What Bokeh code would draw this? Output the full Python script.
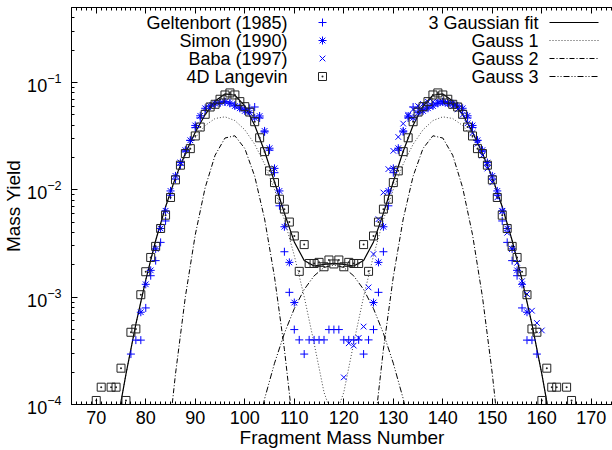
import math
from bokeh.plotting import figure
from bokeh.models import (Range1d, LinearScale, LinearAxis,
                          SingleIntervalTicker, LogTicker)
from bokeh.embed import file_html
from bokeh.resources import INLINE
from bokeh.core.properties import value

FONT = "Liberation Sans"
FS = "18px"
BLUE = "#0000ff"

# ---------------- data ----------------
# 4D Langevin (mass number, yield)
lang_A = [70, 71, 73, 74, 75, 76, 77, 78, 79, 80, 81, 82, 83, 84, 85, 86, 87, 88, 89, 90,
          91, 92, 93, 94, 95, 96, 97, 98, 99, 100, 101, 102, 103, 104, 105, 106, 107, 108,
          109, 110, 111, 112, 113, 114, 115, 116, 117, 118, 119, 120, 121, 122, 123, 124,
          125, 126, 127, 128, 129, 130, 131, 132, 133, 134, 135, 136, 137, 138, 139, 140,
          141, 142, 143, 144, 145, 146, 147, 148, 149, 150, 151, 152, 153, 154, 155, 156,
          157, 158, 159, 160, 161, 162, 163, 165, 166]
lang_Y = [1.09e-4, 1.45e-4, 1.45e-4, 1.45e-4, 2.18e-4, 1.09e-4, 4.71e-4, 5.06e-4, 1.054e-3,
          1.726e-3, 2.344e-3, 2.972e-3, 4.365e-3, 5.808e-3, 8.49e-3, 0.01239, 0.01698,
          0.02178, 0.02421, 0.03177, 0.03846, 0.05058, 0.05916, 0.06266, 0.06982, 0.07656,
          0.07998, 0.07656, 0.06637, 0.05957, 0.05309, 0.04315, 0.03055, 0.02270, 0.01503,
          0.01169, 8.18e-3, 6.61e-3, 5.01e-3, 3.72e-3, 1.74e-3, 3.09e-3, 2.06e-3, 2.06e-3,
          2.11e-3, 1.92e-3, 2.22e-3, 2.04e-3, 2.22e-3, 1.92e-3, 2.11e-3, 2.06e-3, 2.06e-3,
          3.09e-3, 1.74e-3, 3.72e-3, 5.01e-3, 6.61e-3, 8.18e-3, 0.01169, 0.01503, 0.02270,
          0.03055, 0.04315, 0.05309, 0.05957, 0.06637, 0.07656, 0.07998, 0.07656, 0.06982,
          0.06266, 0.05916, 0.05058, 0.03846, 0.03177, 0.02421, 0.02178, 0.01698, 0.01239,
          8.49e-3, 5.808e-3, 4.365e-3, 2.972e-3, 2.344e-3, 1.726e-3, 1.054e-3, 5.06e-4,
          4.71e-4, 1.09e-4, 2.18e-4, 1.45e-4, 1.45e-4, 1.45e-4, 1.09e-4]

# Simon (1990)
simon_A = [79, 80, 81, 82, 83, 84, 85, 86, 87, 88, 89, 90, 91, 92, 93, 94, 95, 96, 97, 98,
           99, 100, 101, 102, 103, 104, 105, 106, 107, 108, 109, 110,
           126, 127, 128, 129, 130, 131, 132, 133, 134, 135, 136, 137, 138, 139, 140, 141,
           142, 143, 144, 145, 146, 147, 148, 149, 150, 151, 152, 153, 154, 155, 156, 157]
simon_Y = [7.24e-4, 1.318e-3, 1.778e-3, 2.818e-3, 4.365e-3, 6.38e-3, 9.77e-3, 0.01349,
           0.01795, 0.02344, 0.02897, 0.03981, 0.04898, 0.05754, 0.0604, 0.06353, 0.06486,
           0.06622, 0.06397, 0.0604, 0.05754, 0.05433, 0.05236, 0.04677, 0.04875, 0.0354,
           0.02443, 0.01585, 9.77e-3, 4.53e-3, 2.11e-3, 8.91e-4,
           8.91e-4, 2.11e-3, 4.53e-3, 9.77e-3, 0.01585, 0.02443, 0.0354, 0.04875, 0.04677,
           0.05236, 0.05433, 0.05754, 0.0604, 0.06397, 0.06622, 0.06486, 0.06353, 0.0604,
           0.05754, 0.04898, 0.03981, 0.02897, 0.02344, 0.01795, 0.01349, 9.77e-3, 6.38e-3,
           4.365e-3, 2.818e-3, 1.778e-3, 1.318e-3, 7.24e-4]

# Geltenbort (1985)
gelt_A = [77, 78, 79, 80, 81, 82, 83, 84, 85, 86, 87, 88, 89, 90, 91, 92, 93, 94, 95, 96,
          97, 98, 99, 100, 101, 102, 103, 104, 105, 106, 107, 108, 109, 110, 111, 112, 113,
          114, 115, 116, 117, 118, 119, 120, 121, 122, 123, 124, 125, 126, 127, 128, 129,
          130, 131, 132, 133, 134, 135, 136, 137, 138, 139, 140, 141, 142, 143, 144, 145,
          146, 147, 148, 149, 150, 151, 152, 153, 154, 155, 156, 157, 158, 159]
gelt_Y = [2.95e-4, 3.98e-4, 3.98e-4, 7.94e-4, 1.585e-3, 2.19e-3, 3.24e-3, 5.13e-3, 8.91e-3,
          0.01259, 0.01698, 0.02291, 0.02884, 0.03802, 0.04677, 0.05495, 0.06026, 0.0631,
          0.06457, 0.06607, 0.06457, 0.06166, 0.05888, 0.05623, 0.05754, 0.05916, 0.04677,
          0.03467, 0.02344, 0.01445, 7.1e-3, 2.65e-3, 1.109e-3, 4.99e-4, 4.0e-4, 2.95e-4,
          4.0e-4, 4.0e-4, 4.0e-4, 4.0e-4, 4.99e-4, 4.99e-4, 4.99e-4, 4.0e-4, 4.0e-4, 4.0e-4,
          4.0e-4, 2.95e-4, 4.0e-4, 4.99e-4, 1.109e-3, 2.65e-3, 7.1e-3, 0.01445, 0.02344,
          0.03467, 0.04677, 0.05916, 0.05754, 0.05623, 0.05888, 0.06166, 0.06457, 0.06607,
          0.06457, 0.0631, 0.06026, 0.05495, 0.04677, 0.03802, 0.02884, 0.02291, 0.01698,
          0.01259, 8.91e-3, 5.13e-3, 3.24e-3, 2.19e-3, 1.585e-3, 7.94e-4, 3.98e-4, 3.98e-4,
          2.95e-4]

# Baba (1997)
baba_A = [120, 121, 122, 123, 124, 125, 126, 127, 128, 129, 130, 131, 132, 133, 134, 135,
          136, 137, 138, 139, 140, 141, 142, 143, 144, 145, 146, 147, 148, 149, 150, 151,
          152, 153, 154, 155, 156, 157, 158, 159, 160]
baba_Y = [1.79e-4, 3.72e-4, 3.54e-4, 4.17e-4, 5.32e-4, 1.233e-3, 2.52e-3, 5.33e-3, 9.44e-3,
          0.0156, 0.0231, 0.0311, 0.0414, 0.0501, 0.0562, 0.0603, 0.0631, 0.0661, 0.0661,
          0.0661, 0.0646, 0.0631, 0.0603, 0.0562, 0.0501, 0.0417, 0.0339, 0.0269, 0.0209,
          0.0158, 0.01175, 8.5e-3, 6.3e-3, 3.98e-3, 2.82e-3, 2.09e-3, 1.41e-3, 1.07e-3,
          7.48e-4, 5.75e-4, 4.9e-4]

# Gaussian components read along a common mass grid
gx = [74, 76, 78, 80, 82, 84, 86, 88, 90, 92, 94, 96, 98, 100, 102, 104, 106, 108, 110,
      112, 114, 116, 118, 120, 122, 124, 126, 128, 130, 132, 134, 136, 138, 140, 142, 144,
      146, 148, 150, 152, 154, 156, 158, 160, 162]
gauss1 = [5.9e-5, 1.92e-4, 5.60e-4, 1.45e-3, 3.37e-3, 6.93e-3, 0.0128, 0.0209, 0.0306,
          0.0398, 0.0462, 0.0479, 0.0442, 0.0363, 0.0266, 0.0174, 0.0101, 5.27e-3, 2.44e-3,
          1.01e-3, 3.72e-4, 1.30e-4, 7.1e-5, 1.30e-4, 3.72e-4, 1.01e-3, 2.44e-3, 5.27e-3,
          0.0101, 0.0174, 0.0266, 0.0363, 0.0442, 0.0479, 0.0462, 0.0398, 0.0306, 0.0209,
          0.0128, 6.93e-3, 3.37e-3, 1.45e-3, 5.60e-4, 1.92e-4, 5.9e-5]
gauss2 = [1e-9, 1e-9, 1e-8, 4e-7, 2.7e-6, 2.7e-5, 1.92e-4, 1.01e-3, 3.82e-3, 0.0105, 0.0210,
          0.0304, 0.0319, 0.0243, 0.0134, 5.36e-3, 1.55e-3, 3.27e-4, 4.98e-5, 5.5e-6, 2.2e-7,
          1e-8, 1e-9, 1e-8, 2.2e-7, 5.5e-6, 4.98e-5, 3.27e-4, 1.55e-3, 5.36e-3, 0.0134,
          0.0243, 0.0319, 0.0304, 0.0210, 0.0105, 3.82e-3, 1.01e-3, 1.92e-4, 2.7e-5, 2.7e-6,
          4e-7, 1e-8, 1e-9, 1e-9]
gauss3 = [1e-10, 1e-10, 1e-10, 1e-9, 1e-9, 1e-9, 1e-8, 1e-8, 3e-8, 1e-7, 4.3e-7, 1.7e-6,
          5.7e-6, 1.73e-5, 4.68e-5, 1.13e-4, 2.42e-4, 4.61e-4, 7.82e-4, 1.18e-3, 1.58e-3,
          1.89e-3, 2.0e-3, 1.89e-3, 1.58e-3, 1.18e-3, 7.82e-4, 4.61e-4, 2.42e-4, 1.13e-4,
          4.68e-5, 1.73e-5, 5.7e-6, 1.7e-6, 4.3e-7, 1e-7, 3e-8, 1e-8, 1e-8, 1e-9, 1e-9, 1e-9,
          1e-10, 1e-10, 1e-10]
fit3 = [a + b + c for a, b, c in zip(gauss1, gauss2, gauss3)]

legend_left = ["Geltenbort (1985)", "Simon (1990)", "Baba (1997)", "4D Langevin"]
legend_right = ["3 Gaussian fit", "Gauss 1", "Gauss 2", "Gauss 3"]

# ---------------- layout ----------------
W, H = 612, 450
ML, MT, MB = 71, 7, 46
FW, FH = W - ML, H - MT - MB   # frame size in px
PXU = 4.951                    # px per mass unit
X0 = 65

p = figure(width=W, height=H, y_axis_type="log",
           x_range=Range1d(X0, X0 + FW / PXU), y_range=Range1d(1e-4, 0.5),
           output_backend="svg", toolbar_location=None,
           min_border_left=ML, min_border_right=0, min_border_top=MT,
           min_border_bottom=MB)
p.outline_line_color = None
p.grid.visible = False
p.background_fill_color = "white"
p.border_fill_color = "white"

# x axis
xa = p.xaxis[0]
xa.ticker = SingleIntervalTicker(interval=10, num_minor_ticks=10)
xa.major_tick_in, xa.major_tick_out = 6, 0
xa.minor_tick_in, xa.minor_tick_out = 3, 0
xa.major_label_text_font = FONT
xa.major_label_text_font_size = "18px"
xa.major_label_text_color = "black"
xa.major_label_standoff = 6
xa.axis_line_color = "black"
xa.axis_label = "Fragment Mass Number"
xa.axis_label_text_font = FONT
xa.axis_label_text_font_size = "19px"
xa.axis_label_text_font_style = "normal"
xa.axis_label_text_color = "black"
xa.axis_label_standoff = 0

# top mirror axis (ticks only)
ta = LinearAxis(ticker=SingleIntervalTicker(interval=10, num_minor_ticks=10))
ta.major_tick_in, ta.major_tick_out = 6, 0
ta.minor_tick_in, ta.minor_tick_out = 3, 0
ta.major_label_text_font_size = "1px"
ta.major_label_text_color = None
ta.major_label_standoff = 0
p.add_layout(ta, "above")

# y axis
ya = p.yaxis[0]
ya.ticker = LogTicker(num_minor_ticks=10)
ya.major_tick_in, ya.major_tick_out = 6, 0
ya.minor_tick_in, ya.minor_tick_out = 3, 0
ya.major_label_text_font = FONT
ya.major_label_text_font_size = "18px"
ya.major_label_text_color = "black"
ya.major_label_standoff = 10
ya.axis_label = "Mass Yield"
ya.axis_label_text_font = FONT
ya.axis_label_text_font_size = "19px"
ya.axis_label_text_font_style = "normal"
ya.axis_label_text_color = "black"
ya.axis_label_standoff = 0

# ---------------- curves ----------------
p.line(gx, gauss1, line_color="#444444", line_width=1, line_dash="1 2")
p.line(gx, gauss2, line_color="black", line_width=1, line_dash="5 2 1 2")
p.line(gx, gauss3, line_color="black", line_width=1, line_dash="6 2 1 2 1 2")
p.line(gx, fit3, line_color="black", line_width=1.2)

# ---------------- points ----------------
p.scatter(gelt_A, gelt_Y, marker="cross", size=8, line_color=BLUE, line_width=1)
p.scatter(simon_A, simon_Y, marker="asterisk", size=8, line_color=BLUE, line_width=1)
p.scatter(baba_A, baba_Y, marker="x", size=8, line_color=BLUE, line_width=1)
p.scatter(lang_A, lang_Y, marker="square_dot", size=8, line_color="#222222",
          fill_color=None, line_width=1)

# ---------------- legend (frame pixel coordinates) ----------------
p.extra_x_ranges = {"px": Range1d(0, FW)}
p.extra_y_ranges = {"py": Range1d(FH, 0)}
p.extra_x_scales = {"px": LinearScale()}
p.extra_y_scales = {"py": LinearScale()}
rows = [15, 33, 51, 69]
p.text(x=[216] * 4, y=rows, text=legend_left, x_range_name="px", y_range_name="py",
       text_align="right", text_baseline="middle", text_font=value(FONT),
       text_font_size=FS, text_color="black")
p.text(x=[467] * 4, y=rows, text=legend_right, x_range_name="px", y_range_name="py",
       text_align="right", text_baseline="middle", text_font=value(FONT),
       text_font_size=FS, text_color="black")
for mk, yy, col in [("cross", rows[0], BLUE), ("asterisk", rows[1], BLUE),
                    ("x", rows[2], BLUE), ("square_dot", rows[3], "#222222")]:
    p.scatter([251], [yy], marker=mk, size=8, line_color=col, fill_color=None,
              line_width=1, x_range_name="px", y_range_name="py")
for yy, dash, col, lw in [(rows[0], "solid", "black", 1.2), (rows[1], "1 2", "#444444", 1),
                          (rows[2], "5 2 1 2", "black", 1), (rows[3], "6 2 1 2 1 2", "black", 1)]:
    p.line([478, 527], [yy, yy], line_color=col, line_dash=dash, line_width=lw,
           x_range_name="px", y_range_name="py")

open("out.html", "w").write(file_html(p, INLINE))
